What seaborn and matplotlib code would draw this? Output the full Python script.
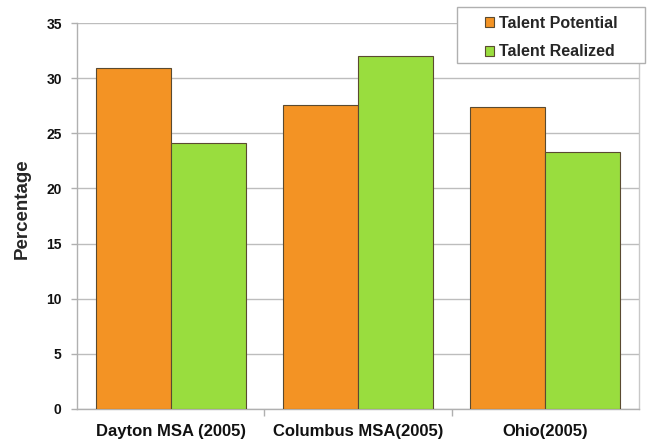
import pandas as pd
import numpy as np
import matplotlib.pyplot as plt
import seaborn as sns
from matplotlib.ticker import FixedLocator
from matplotlib.patches import Rectangle

# Set style
sns.set_theme(style="white")
plt.rcParams['font.family'] = ['Liberation Sans', 'DejaVu Sans']

# Data
regions = ['Dayton MSA (2005)', 'Columbus MSA(2005)', 'Ohio(2005)']
talent_potential = [30.9, 27.6, 27.4]
talent_realized = [24.1, 32.0, 23.3]
series_names = ['Talent Potential', 'Talent Realized']
colors = ['#F39324', '#99DD3E']
y_ticks = [0, 5, 10, 15, 20, 25, 30, 35]

df = pd.DataFrame({
    'Region': regions * 2,
    'Series': [series_names[0]] * 3 + [series_names[1]] * 3,
    'Percentage': talent_potential + talent_realized,
})

W, H = 647, 445
fig = plt.figure(figsize=(6.47, 4.45), dpi=100)
ax = fig.add_axes([0.119, 0.081, 0.8686, 0.867])

sns.barplot(data=df, x='Region', y='Percentage', hue='Series',
            palette=colors, width=0.8, edgecolor='#5a4a30', linewidth=0.8,
            saturation=1, ax=ax, zorder=3)

ax.set_ylim(0, 35)
ax.set_xlim(-0.5, 2.5)
ax.set_yticks(y_ticks)
ax.yaxis.grid(True, color='#bdbdbd', linewidth=1, zorder=0)
ax.set_axisbelow(True)

# spines
ax.spines['top'].set_visible(False)
ax.spines['right'].set_color('#c8c8c8')
ax.spines['left'].set_color('#b0b0b0')
ax.spines['bottom'].set_color('#b0b0b0')
for s in ax.spines.values():
    s.set_linewidth(1)

# ticks
ax.tick_params(axis='y', which='major', length=4, width=1, color='#b0b0b0',
               labelsize=10, pad=7, left=True)
ax.tick_params(axis='x', which='major', length=0, labelsize=12, pad=11)
ax.xaxis.set_minor_locator(FixedLocator([0.5, 1.5]))
ax.tick_params(axis='x', which='minor', length=5, width=1, color='#b0b0b0', bottom=True)
for lbl in ax.get_yticklabels() + ax.get_xticklabels():
    lbl.set_fontweight('bold')
    lbl.set_color('#111111')

ax.set_xlabel('')
ax.set_ylabel('Percentage', fontsize=13.5, fontweight='bold')
ax.yaxis.set_label_coords(-0.083, 0.52)

# legend box (drawn separately so it can be wider than its entries)
handles, labels = ax.get_legend_handles_labels()
ax.get_legend().remove()
fig.patches.append(Rectangle((457 / W, 1 - 63 / H), (645 - 457) / W, (63 - 7) / H,
                             transform=fig.transFigure, facecolor='white',
                             edgecolor='#b0b0b0', linewidth=1, zorder=10))
leg = fig.legend(handles, labels, loc='upper left',
                 bbox_to_anchor=(480 / W, 1 - 11 / H),
                 frameon=False, handlelength=0.6, handleheight=0.6,
                 handletextpad=0.3, borderpad=0.3, borderaxespad=0, labelspacing=0.85,
                 prop={'weight': 'bold', 'size': 11.5})
leg.set_zorder(11)

plt.savefig('out.png', dpi=100)
plt.close()
